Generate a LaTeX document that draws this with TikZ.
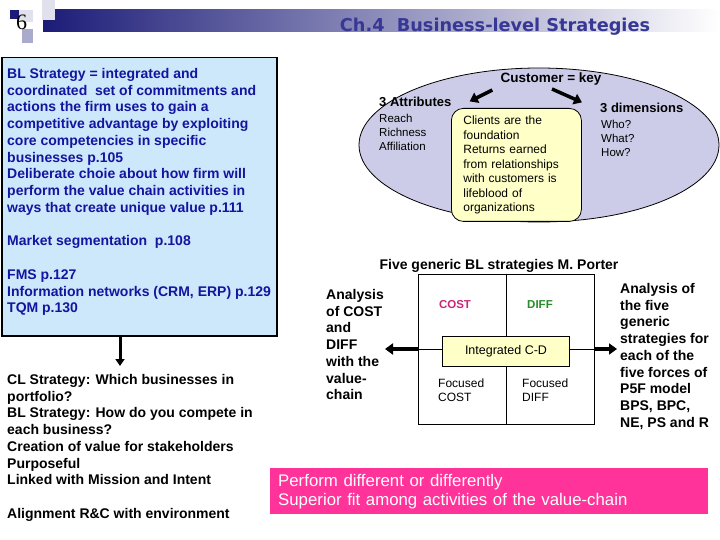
\documentclass[tikz,border=0pt]{standalone}
\usepackage{fontspec}
\setmainfont{Liberation Sans}
\newfontfamily\titlefont{DejaVu Sans}
\newfontfamily\numfont{Liberation Serif}
\usetikzlibrary{arrows.meta,shapes.geometric}

\definecolor{navy}{RGB}{28,28,120}
\definecolor{titleblue}{RGB}{55,55,150}
\definecolor{textblue}{RGB}{20,20,160}
\definecolor{paleblue}{RGB}{204,232,250}
\definecolor{lavender}{RGB}{204,204,232}
\definecolor{paleyellow}{RGB}{255,255,200}
\definecolor{hotpink}{RGB}{255,51,153}
\definecolor{costred}{RGB}{200,40,120}
\definecolor{diffgreen}{RGB}{40,140,40}
\definecolor{sqpale}{RGB}{225,225,238}
\definecolor{sqmid}{RGB}{170,170,205}

\begin{document}
\begin{tikzpicture}[x=1pt,y=-1pt,
  txt/.style={inner sep=0pt,anchor=north west,align=left},
  bigtxt/.style={txt,font=\fontsize{14}{16.75}\selectfont\bfseries},
  smalltxt/.style={txt,font=\fontsize{11.5}{14.2}\selectfont},
  headtxt/.style={inner sep=0pt,font=\fontsize{13}{16}\selectfont\bfseries},
  fatarrow/.style={line width=3.5pt,-{Triangle[length=8pt,width=11pt]}},
]
\useasboundingbox (0,0) rectangle (720,540);

% header
\shade[left color=navy,right color=white] (43,10) rectangle (720,32);
\fill[sqpale] (42,0) rectangle (55,20);
\fill[sqpale] (19,10) rectangle (33,22);
\fill[sqmid] (22,29) rectangle (33,43);
\fill[navy] (10,10) rectangle (19,19);
\node[inner sep=0pt,anchor=base west,font=\numfont\fontsize{22}{22}\selectfont] (pagenum) at (16,29.5) {6};
\node[anchor=base,inner sep=0pt,text=titleblue,font=\titlefont\bfseries\fontsize{17.7}{20}\selectfont] (title) at (495,31.5) {Ch.4\ \ Business-level Strategies};

% left column
\node[draw,line width=1.5pt,fill=paleblue,anchor=north west,minimum width=275pt,minimum height=278pt,inner sep=0pt] (blbox) at (1,57) {};
\node[bigtxt,text=textblue] (bldef) at (7,68) {BL Strategy = integrated and\\ coordinated\ \ set of commitments and\\ actions the firm uses to gain a\\ competitive advantage by exploiting\\ core competencies in specific\\ businesses p.105\\ Deliberate choie about how firm will\\ perform the value chain activities in\\ ways that create unique value p.111\\[16.75pt] Market segmentation\ \ p.108\\[16.75pt] FMS p.127\\ Information networks (CRM, ERP) p.129\\ TQM p.130};

\coordinate (cltip) at (120,366);
\draw[line width=3pt,-{Triangle[length=7pt,width=9pt]}] (blbox.south -| cltip) -- (cltip);

\node[bigtxt] (clstrat) at (7,374) {CL Strategy: Which businesses in\\ portfolio?\\ BL Strategy: How do you compete in\\ each business?\\ Creation of value for stakeholders\\ Purposeful\\ Linked with Mission and Intent\\[16.75pt] Alignment R\&C with environment};

% customer ellipse
\node[ellipse,draw,thick,fill=lavender,minimum width=360pt,minimum height=154pt,inner sep=0pt] (custell) at (539,145) {};
\node[headtxt,anchor=base,font=\fontsize{13.5}{16}\selectfont\bfseries] (custkey) at (551,83) {Customer = key};
\node[headtxt,anchor=base west] (attrs) at (379,107) {3 Attributes};
\node[smalltxt] (attrlist) at (379,113.7) {Reach\\ Richness\\ Affiliation};
\node[headtxt,anchor=base west] (dims) at (600,113) {3 dimensions};
\node[smalltxt] (dimlist) at (601,119.7) {Who?\\ What?\\ How?};
\node[draw,thick,fill=paleyellow,rounded corners=12pt,anchor=north west,minimum width=130pt,minimum height=113pt,text width=106pt,inner xsep=12pt,align=left,font=\fontsize{12}{14.5}\selectfont] (clients) at (451,108) {Clients are the\\ foundation\\ Returns earned\\ from relationships\\ with customers is\\ lifeblood of\\ organizations};
\draw[fatarrow] ([shift={(-8,4)}]custkey.south west) -- ([shift={(18,4)}]attrs.north east);
\draw[fatarrow] ([shift={(1,3)}]custkey.south) -- ([shift={(-18,-1)}]dims.north west);

% Porter grid
\node[headtxt,anchor=base,font=\fontsize{14}{16}\selectfont\bfseries] (porterhd) at (499,269) {Five generic BL strategies M. Porter};
\node[draw,thick,minimum width=176pt,minimum height=150pt,inner sep=0pt] (porter) at (506,349) {};
\draw[thick] (porter.north) -- (porter.south);
\draw[thick] (porter.west) -- (porter.east);
\node[draw,thick,fill=paleyellow,minimum width=127pt,minimum height=30pt,inner sep=0pt,font=\fontsize{12.5}{14}\selectfont] (integ) at (506,351) {Integrated C-D};
\node[headtxt,anchor=base,font=\fontsize{11.5}{14}\selectfont\bfseries,text=costred] (cost) at (455,308) {COST};
\node[headtxt,anchor=base,font=\fontsize{11.5}{14}\selectfont\bfseries,text=diffgreen] (diff) at (540,308) {DIFF};
\node[txt,font=\fontsize{12}{14}\selectfont] (fcost) at (438,378.3) {Focused\\ COST};
\node[txt,font=\fontsize{12}{14}\selectfont] (fdiff) at (522,378.3) {Focused\\ DIFF};

\coordinate (leftend) at (385,349);
\coordinate (rightend) at (617,349);
\draw[fatarrow] (porter.west) -- (leftend);
\draw[fatarrow] (porter.east) -- (rightend);

\node[bigtxt] (vcanalysis) at (326,289) {Analysis\\ of COST\\ and\\ DIFF\\ with the\\ value-\\ chain};
\node[bigtxt] (pfanalysis) at (620,283) {Analysis of\\ the five\\ generic\\ strategies for\\ each of the\\ five forces of\\ P5F model\\ BPS, BPC,\\ NE, PS and R};

% bottom banner
\node[fill=hotpink,anchor=north west,minimum width=438pt,minimum height=46pt,text width=422pt,inner xsep=8pt,align=left,text=white,font=\fontsize{16.8}{19}\selectfont] (perform) at (270,468) {Perform different or differently\\ Superior fit among activities of the value-chain};

\end{tikzpicture}
\end{document}
